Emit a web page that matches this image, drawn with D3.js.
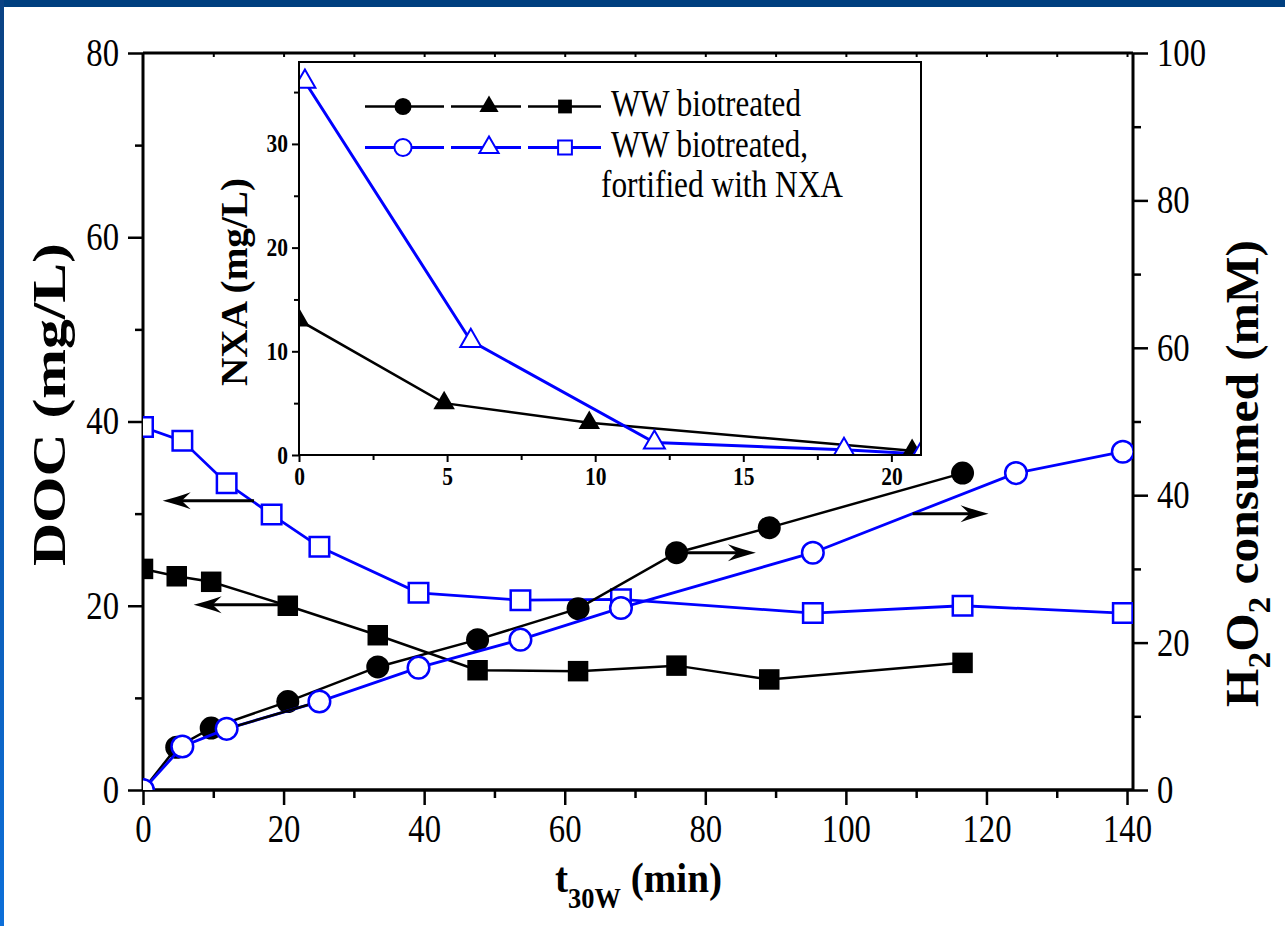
<!DOCTYPE html>
<html><head><meta charset="utf-8">
<script src="https://cdn.jsdelivr.net/npm/d3@7"></script>
<style>body{margin:0;background:#fff}svg{display:block}svg text{font-family:"Liberation Serif","Times New Roman",Tinos,"DejaVu Serif",serif}</style>
</head><body>
<svg id="c" width="1285" height="926"></svg>
<script>
// ---------- data ----------
const tBio      = [0, 4.8, 9.7, 20.6, 33.4, 47.6, 61.9, 75.9, 89.1, 116.6];
const docBio    = [24.0, 23.2, 22.6, 20.0, 16.8, 13.0, 12.9, 13.5, 12.0, 13.8];
const h2o2Bio   = [0, 5.8, 8.4, 12.0, 16.7, 20.4, 24.6, 32.2, 35.6, 43.0];
const tFortDoc  = [0, 5.6, 11.9, 18.3, 25.1, 39.2, 53.7, 68.0, 95.3, 116.6, 139.4];
const docFort   = [39.4, 37.9, 33.3, 29.9, 26.4, 21.4, 20.6, 20.7, 19.2, 20.0, 19.2];
const tFortH2O2 = [0, 5.6, 11.9, 25.1, 39.2, 53.7, 68.0, 95.3, 124.2, 139.4];
const h2o2Fort  = [0, 5.9, 8.3, 12.0, 16.6, 20.4, 24.7, 32.2, 43.0, 45.9];
const blackSegFort = [2, 3];   // segment of the fortified H2O2 curve drawn in black
const tNxaBio   = [0, 4.9, 9.8, 20.7];
const nxaBio    = [13.0, 5.0, 3.1, 0.4];
const tNxaFort  = [0.2, 5.8, 12.0, 18.4, 21.0];
const nxaFort   = [36.0, 11.0, 1.2, 0.5, 0.1];
const xTicks    = [0, 20, 40, 60, 80, 100, 120, 140];
const xMinor    = [10, 30, 50, 70, 90, 110, 130];
const xTop      = [10, 20, 30, 40, 50, 60, 70, 80, 90, 100, 110, 120, 130, 140];
const yLTicks   = [0, 20, 40, 60, 80];
const yLMinor   = [10, 30, 50, 70];
const yRTicks   = [0, 20, 40, 60, 80, 100];
const yRMinor   = [10, 30, 50, 70, 90];
const xiTicks   = [0, 5, 10, 15, 20];
const xiMinor   = [2.5, 7.5, 12.5, 17.5];
const yiTicks   = [0, 10, 20, 30];
const yiMinor   = [5, 15, 25, 35];
const arrowsDoc  = [[15.8, 2.8, 31.4], [20.0, 7.2, 20.1]];   // [tail t, tip t, DOC]
const arrowsH2O2 = [[77.3, 87.2, 32.2], [109.5, 120.3, 37.5]]; // [tail t, tip t, H2O2]
const legendLabels = ["WW biotreated", "WW biotreated,", "fortified with NXA"];

const BLUE = "#0000ff";
const SERIF = '"Liberation Serif","Times New Roman",Tinos,"DejaVu Serif",serif';
const zip = (a, b) => a.map((v, i) => [v, b[i]]);

const svg = d3.select("#c");
const defs = svg.append("defs");

// ---------- frame decoration ----------
const lg = defs.append("linearGradient").attr("id", "lb").attr("x1", 0).attr("y1", 0).attr("x2", 0).attr("y2", 1);
lg.append("stop").attr("offset", 0).attr("stop-color", "#0a4283");
lg.append("stop").attr("offset", 1).attr("stop-color", "#0d6fd9");
svg.append("rect").attr("x", 0).attr("y", 0).attr("width", 1285).attr("height", 7).attr("fill", "#003f7f");
svg.append("rect").attr("x", 0).attr("y", 0).attr("width", 4).attr("height", 926).attr("fill", "url(#lb)");

// ---------- scales ----------
const X0 = 143, X1 = 1133, Y0 = 53, Y1 = 790;
const x  = d3.scaleLinear().domain([0, 140.85]).range([X0, X1]);
const yL = d3.scaleLinear().domain([0, 80]).range([Y1, Y0]);
const yR = d3.scaleLinear().domain([0, 100]).range([Y1, Y0]);

function squeeze(g, k) {
  g.selectAll(".tick text").each(function () {
    const t = d3.select(this);
    const xv = +t.attr("x") || 0;
    t.attr("x", xv / k).attr("transform", `scale(${k},1)`);
  });
}
function styleAxis(g, sw, fs, bold) {
  g.attr("font-family", SERIF);
  g.select(".domain").remove();
  g.selectAll(".tick line").attr("stroke", "#000").attr("stroke-width", sw);
  g.selectAll(".tick text").attr("fill", "#000").attr("font-family", SERIF)
    .attr("font-size", fs).attr("font-weight", bold ? "bold" : "normal");
}

// ---------- main axes ----------
const ax = svg.append("g");
const gB = ax.append("g").attr("transform", `translate(0,${Y1})`)
  .call(d3.axisBottom(x).tickValues(xTicks).tickSize(15).tickPadding(9).tickFormat(d3.format("d")));
styleAxis(gB, 2.5, 39); squeeze(gB, 0.84);
const gBm = ax.append("g").attr("transform", `translate(0,${Y1})`)
  .call(d3.axisBottom(x).tickValues(xMinor).tickSize(8).tickFormat(""));
styleAxis(gBm, 2.5, 39);
const gT = ax.append("g").attr("transform", `translate(0,${Y0})`)
  .call(d3.axisTop(x).tickValues(xTop).tickSize(-4).tickFormat(""));
styleAxis(gT, 2, 39);

const gL = ax.append("g").attr("transform", `translate(${X0},0)`)
  .call(d3.axisLeft(yL).tickValues(yLTicks).tickSize(15).tickPadding(9).tickFormat(d3.format("d")));
styleAxis(gL, 2.5, 39); squeeze(gL, 0.84);
const gLm = ax.append("g").attr("transform", `translate(${X0},0)`)
  .call(d3.axisLeft(yL).tickValues(yLMinor).tickSize(8).tickFormat(""));
styleAxis(gLm, 2.5, 39);

const gR = ax.append("g").attr("transform", `translate(${X1},0)`)
  .call(d3.axisRight(yR).tickValues(yRTicks).tickSize(15).tickPadding(9).tickFormat(d3.format("d")));
styleAxis(gR, 2.5, 39); squeeze(gR, 0.84);
const gRm = ax.append("g").attr("transform", `translate(${X1},0)`)
  .call(d3.axisRight(yR).tickValues(yRMinor).tickSize(8).tickFormat(""));
styleAxis(gRm, 2.5, 39);

// frame lines
ax.append("line").attr("x1", X0).attr("x2", X1).attr("y1", Y1).attr("y2", Y1).attr("stroke", "#000").attr("stroke-width", 3.5);
ax.append("line").attr("x1", X0).attr("x2", X1).attr("y1", Y0).attr("y2", Y0).attr("stroke", "#000").attr("stroke-width", 3);
ax.append("line").attr("x1", X0).attr("x2", X0).attr("y1", Y0).attr("y2", Y1).attr("stroke", "#000").attr("stroke-width", 3);
ax.append("line").attr("x1", X1).attr("x2", X1).attr("y1", Y0).attr("y2", Y1).attr("stroke", "#000").attr("stroke-width", 3);

// ---------- titles ----------
function fit(sel, target, tx, ty, rot) {
  const w = sel.node().getComputedTextLength();
  const k = target / w;
  sel.attr("transform", `translate(${tx},${ty})${rot ? ` rotate(${rot})` : ""} scale(${k},1)`);
}
function txt(size, bold) {
  return svg.append("text").attr("font-family", SERIF).attr("font-size", size)
    .attr("font-weight", bold ? "bold" : "normal").attr("fill", "#000");
}
const tDoc = txt(46, true).attr("text-anchor", "middle").text("DOC (mg/L)");
fit(tDoc, 323, 65, 404.5, -90);

const tH = txt(46, true).attr("text-anchor", "middle");
tH.append("tspan").text("H");
tH.append("tspan").attr("dy", 12).attr("font-size", 31).text("2");
tH.append("tspan").attr("dy", -12).text("O");
tH.append("tspan").attr("dy", 12).attr("font-size", 31).text("2");
tH.append("tspan").attr("dy", -12).text(" consumed (mM)");
fit(tH, 467, 1258, 473.5, -90);

const tX = txt(43, true).attr("text-anchor", "middle");
tX.append("tspan").text("t");
tX.append("tspan").attr("dy", 16).attr("font-size", 29).text("30W");
tX.append("tspan").attr("dy", -16).text(" (min)");
fit(tX, 167, 638.5, 892, 0);

// ---------- main data ----------
defs.append("clipPath").attr("id", "plotclip").append("rect")
  .attr("x", X0).attr("y", Y0).attr("width", X1 - X0).attr("height", Y1 - Y0);
const gd = svg.append("g").attr("clip-path", "url(#plotclip)");

const lineL = d3.line().x(d => x(d[0])).y(d => yL(d[1]));
const lineR = d3.line().x(d => x(d[0])).y(d => yR(d[1]));
const sym = (type, size) => d3.symbol().type(type).size(size)();

const dBioDoc = zip(tBio, docBio), dBioH = zip(tBio, h2o2Bio);
const dFortDoc = zip(tFortDoc, docFort), dFortH = zip(tFortH2O2, h2o2Fort);

gd.append("path").attr("d", lineL(dBioDoc)).attr("fill", "none").attr("stroke", "#000").attr("stroke-width", 2.5);
gd.selectAll(".bsq").data(dBioDoc).join("path").attr("d", sym(d3.symbolSquare, 420))
  .attr("transform", d => `translate(${x(d[0])},${yL(d[1])})`).attr("fill", "#000");
gd.append("path").attr("d", lineL(dFortDoc)).attr("fill", "none").attr("stroke", BLUE).attr("stroke-width", 2.8);
gd.selectAll(".osq").data(dFortDoc).join("path").attr("d", sym(d3.symbolSquare, 380))
  .attr("transform", d => `translate(${x(d[0])},${yL(d[1])})`).attr("fill", "#fff").attr("stroke", BLUE).attr("stroke-width", 2.5);
gd.append("path").attr("d", lineR(dBioH)).attr("fill", "none").attr("stroke", "#000").attr("stroke-width", 2.5);
gd.selectAll(".bci").data(dBioH).join("path").attr("d", sym(d3.symbolCircle, Math.PI * 11.5 * 11.5))
  .attr("transform", d => `translate(${x(d[0])},${yR(d[1])})`).attr("fill", "#000");
gd.append("path").attr("d", lineR(dFortH)).attr("fill", "none").attr("stroke", BLUE).attr("stroke-width", 2.8);
gd.append("path").attr("d", lineR(blackSegFort.map(i => dFortH[i]))).attr("fill", "none").attr("stroke", "#000").attr("stroke-width", 2.5);
gd.selectAll(".oci").data(dFortH).join("path").attr("d", sym(d3.symbolCircle, Math.PI * 10.8 * 10.8))
  .attr("transform", d => `translate(${x(d[0])},${yR(d[1])})`).attr("fill", "#fff").attr("stroke", BLUE).attr("stroke-width", 2.5);

// ---------- arrows ----------
function arrow(xTail, xTip, yy) {
  const dir = xTip > xTail ? 1 : -1;
  const L = 28, H = 17;
  svg.append("line").attr("x1", xTail).attr("x2", xTip - dir * 10).attr("y1", yy).attr("y2", yy)
    .attr("stroke", "#000").attr("stroke-width", 3);
  const p = `M0,0 Q${-L * 0.45},${-H * 0.18} ${-L},${-H / 2} L${-L * 0.68},0 L${-L},${H / 2} Q${-L * 0.45},${H * 0.18} 0,0 Z`;
  svg.append("path").attr("d", p).attr("fill", "#000")
    .attr("transform", `translate(${xTip},${yy}) scale(${dir},1)`);
}
arrowsDoc.forEach(a => arrow(x(a[0]), x(a[1]), yL(a[2])));
arrowsH2O2.forEach(a => arrow(x(a[0]), x(a[1]), yR(a[2])));

// ---------- inset ----------
const IX0 = 299, IX1 = 921, IY0 = 62, IY1 = 455;
const xi = d3.scaleLinear().domain([0, 21]).range([IX0, IX1]);
const yi = d3.scaleLinear().domain([0, 37.9]).range([IY1, IY0]);
svg.append("rect").attr("x", IX0).attr("y", IY0).attr("width", IX1 - IX0).attr("height", IY1 - IY0)
  .attr("fill", "#fff").attr("stroke", "#000").attr("stroke-width", 2);

const giB = svg.append("g").attr("transform", `translate(0,${IY1})`)
  .call(d3.axisBottom(xi).tickValues(xiTicks).tickSize(7).tickPadding(5).tickFormat(d3.format("d")));
styleAxis(giB, 2, 25, true); squeeze(giB, 0.86);
const giBm = svg.append("g").attr("transform", `translate(0,${IY1})`)
  .call(d3.axisBottom(xi).tickValues(xiMinor).tickSize(5).tickFormat(""));
styleAxis(giBm, 2, 25, true);
const giL = svg.append("g").attr("transform", `translate(${IX0},0)`)
  .call(d3.axisLeft(yi).tickValues(yiTicks).tickSize(7).tickPadding(4).tickFormat(d3.format("d")));
styleAxis(giL, 2, 25, true); squeeze(giL, 0.86);
const giLm = svg.append("g").attr("transform", `translate(${IX0},0)`)
  .call(d3.axisLeft(yi).tickValues(yiMinor).tickSize(5).tickFormat(""));
styleAxis(giLm, 2, 25, true);

const tN = txt(38, true).attr("text-anchor", "middle").text("NXA (mg/L)");
fit(tN, 208, 247, 282, -90);

defs.append("clipPath").attr("id", "insetclip").append("rect")
  .attr("x", IX0).attr("y", IY0).attr("width", IX1 - IX0).attr("height", IY1 - IY0);
const gi = svg.append("g").attr("clip-path", "url(#insetclip)");
const lineI = d3.line().x(d => xi(d[0])).y(d => yi(d[1]));
const dNB = zip(tNxaBio, nxaBio), dNF = zip(tNxaFort, nxaFort);
gi.append("path").attr("d", lineI(dNB)).attr("fill", "none").attr("stroke", "#000").attr("stroke-width", 2.5);
gi.append("path").attr("d", lineI(dNF)).attr("fill", "none").attr("stroke", BLUE).attr("stroke-width", 3);
gi.selectAll(".btr").data(dNB).join("path").attr("d", sym(d3.symbolTriangle, 200))
  .attr("transform", d => `translate(${xi(d[0])},${yi(d[1])})`).attr("fill", "#000");
gi.selectAll(".otr").data(dNF).join("path").attr("d", sym(d3.symbolTriangle, 190))
  .attr("transform", d => `translate(${xi(d[0])},${yi(d[1])})`).attr("fill", "#fff").attr("stroke", BLUE).attr("stroke-width", 2);
svg.append("rect").attr("x", IX0).attr("y", IY0).attr("width", IX1 - IX0).attr("height", IY1 - IY0)
  .attr("fill", "none").attr("stroke", "#000").attr("stroke-width", 2);

// ---------- legend ----------
const legRows = [
  { y: 106.5, color: "#000", fill: "#000" },
  { y: 147.5, color: BLUE, fill: "#fff" }
];
const segs = [[365, 444, 403, d3.symbolCircle, 230], [451, 521, 489, d3.symbolTriangle, 160], [528, 601, 565, d3.symbolSquare, 190]];
legRows.forEach(r => {
  segs.forEach(s => {
    svg.append("line").attr("x1", s[0]).attr("x2", s[1]).attr("y1", r.y).attr("y2", r.y)
      .attr("stroke", r.color).attr("stroke-width", r.fill === "#fff" ? 3 : 2.5);
    svg.append("path").attr("d", sym(s[3], s[4])).attr("transform", `translate(${s[2]},${r.y})`)
      .attr("fill", r.fill).attr("stroke", r.fill === "#fff" ? BLUE : "none").attr("stroke-width", 2);
  });
});
const legPos = [[611, 116, 190], [611, 157, 197], [601, 197, 242]];
legendLabels.forEach((lab, i) => {
  const t = txt(38, false).text(lab);
  fit(t, legPos[i][2], legPos[i][0], legPos[i][1], 0);
});
</script>
</body></html>
